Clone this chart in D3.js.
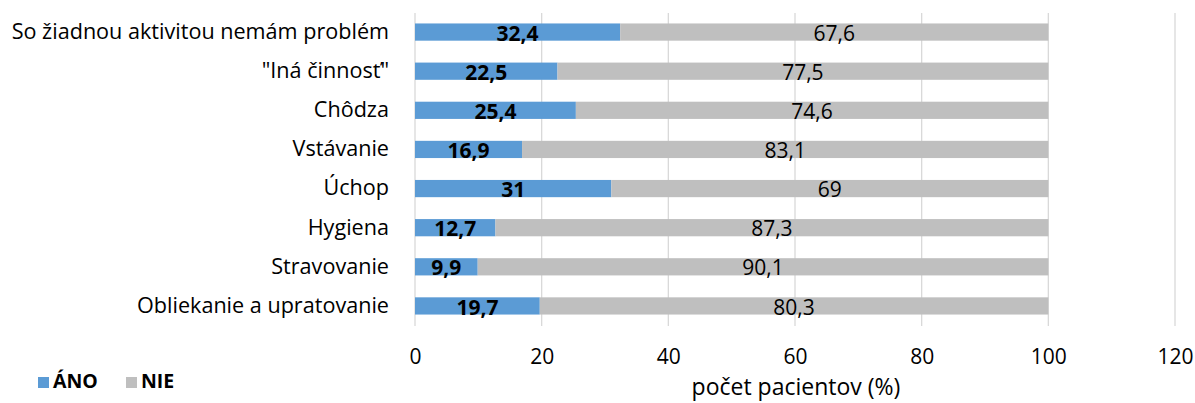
<!DOCTYPE html>
<html>
<head>
<meta charset="utf-8">
<script src="https://cdn.jsdelivr.net/npm/d3@7"></script>
<style>
  body { margin: 0; background: #fff; }
  svg { display: block; }
  text { font-family: "Open Sans", sans-serif; fill: #000; }
</style>
</head>
<body>
<svg id="chart" width="1195" height="403"></svg>
<script>
const categories = [
  "So žiadnou aktivitou nemám problém",
  "\"Iná činnosť\"",
  "Chôdza",
  "Vstávanie",
  "Úchop",
  "Hygiena",
  "Stravovanie",
  "Obliekanie a upratovanie"
];
const anoValues = [32.4, 22.5, 25.4, 16.9, 31, 12.7, 9.9, 19.7];
const nieValues = [67.6, 77.5, 74.6, 83.1, 69, 87.3, 90.1, 80.3];
const xTicks = [0, 20, 40, 60, 80, 100, 120];
const seriesNames = ["ÁNO", "NIE"];
const colors = ["#5B9BD5", "#BFBFBF"];

const svg = d3.select("#chart");
const x = d3.scaleLinear().domain([0, 120]).range([415, 1175]);
const y = d3.scaleBand().domain(categories).range([12.5, 325.5]).paddingInner(0.56).paddingOuter(0.28);

const fmt = v => String(v).replace(".", ",");
const FONT = "'Open Sans', sans-serif";

// gridlines
svg.append("g").selectAll("line").data(xTicks).join("line")
  .attr("x1", d => x(d)).attr("x2", d => x(d))
  .attr("y1", 13).attr("y2", 326)
  .attr("stroke", "#D9D9D9").attr("stroke-width", 1.3);

const rows = categories.map((c, i) => ({ c, a: anoValues[i], n: nieValues[i] }));

// ÁNO bars
svg.append("g").selectAll("rect").data(rows).join("rect")
  .attr("x", x(0)).attr("y", d => y(d.c))
  .attr("width", d => x(d.a) - x(0)).attr("height", y.bandwidth())
  .attr("fill", colors[0]);
// NIE bars
svg.append("g").selectAll("rect").data(rows).join("rect")
  .attr("x", d => x(d.a)).attr("y", d => y(d.c))
  .attr("width", d => x(d.a + d.n) - x(d.a)).attr("height", y.bandwidth())
  .attr("fill", colors[1]);

// labels
svg.append("g").selectAll("text").data(rows).join("text")
  .attr("x", d => x(d.a / 2)).attr("y", d => y(d.c) + y.bandwidth() / 2 + 3)
  .attr("text-anchor", "middle").attr("dominant-baseline", "middle")
  .attr("font-size", 21).attr("font-weight", "bold")
  .text(d => fmt(d.a));
svg.append("g").selectAll("text").data(rows).join("text")
  .attr("x", d => x(d.a + d.n / 2)).attr("y", d => y(d.c) + y.bandwidth() / 2 + 3)
  .attr("text-anchor", "middle").attr("dominant-baseline", "middle")
  .attr("font-size", 21)
  .text(d => fmt(d.n));

// category axis
const yAxis = d3.axisLeft(y).tickSize(0).tickPadding(0);
const gy = svg.append("g").attr("transform", "translate(389,0)").call(yAxis);
gy.select(".domain").remove();
gy.selectAll("text").attr("font-size", 21.6).attr("font-family", FONT).attr("fill", "#000");

// x axis
const xAxis = d3.axisBottom(x).tickValues(xTicks).tickSize(0).tickPadding(0);
const gx = svg.append("g").attr("transform", "translate(0,349)").call(xAxis);
gx.select(".domain").remove();
gx.selectAll("text").attr("font-size", 21).attr("font-family", FONT).attr("fill", "#000");

// axis title
svg.append("text").attr("x", 796).attr("y", 389)
  .attr("text-anchor", "middle").attr("dominant-baseline", "middle")
  .attr("font-size", 23).text("počet pacientov (%)");

// legend
const leg = svg.append("g");
const legX = [38, 126];
seriesNames.forEach((s, i) => {
  leg.append("rect").attr("x", legX[i]).attr("y", 377).attr("width", 11).attr("height", 11).attr("fill", colors[i]);
  leg.append("text").attr("x", legX[i] + 15).attr("y", 383)
    .attr("dominant-baseline", "middle").attr("font-size", 19.5).attr("font-weight", "bold").text(s);
});
</script>
</body>
</html>
